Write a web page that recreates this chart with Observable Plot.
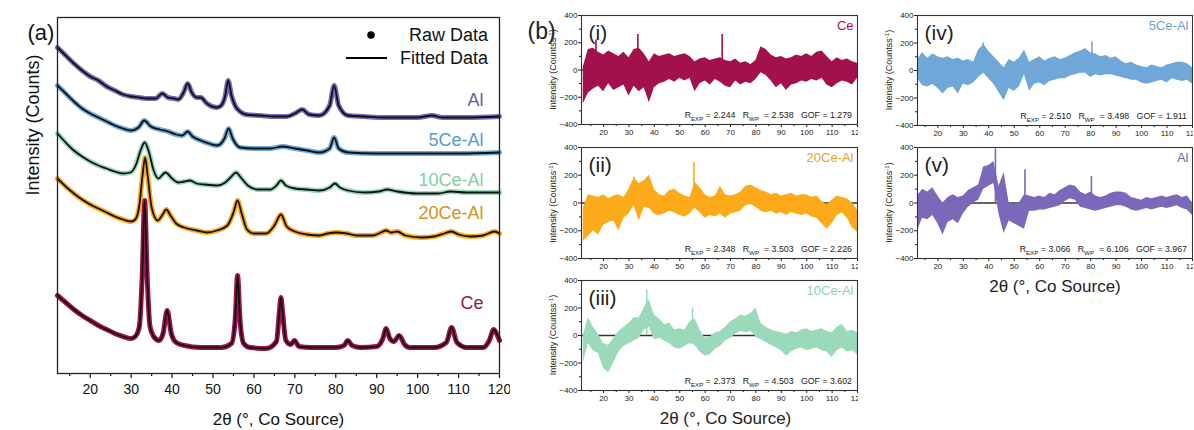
<!DOCTYPE html>
<html><head><meta charset="utf-8">
<script src="https://cdn.jsdelivr.net/npm/d3@7"></script>
<script src="https://cdn.jsdelivr.net/npm/@observablehq/plot@0.6"></script>
<style>
body{margin:0;background:#fff;font-family:"Liberation Sans",Arial,sans-serif;}
#fig{position:relative;width:1194px;height:430px;overflow:hidden;background:#fff;}
</style></head><body><div id="fig"></div>
<script>
// ---------- Panel (a): XRD patterns (2θ, intensity a.u.) ----------
const alX  = [12,14,16,18,20,22,24,26,28,30,32,34,36,37.6,39,40.5,41.5,42.8,43.8,44.8,46,47,48.5,51,52,53,53.7,54.5,55.5,56.6,58,61.5,65,68,70,71.8,73.5,76,78.5,79.6,80.7,83,87,91.5,100,103.5,106,112,120];
const alY  = [326,318,310,303,297,293,287,283,279,277,276,275,275,280,276,275,274,281,290,281,276,276,270,266,268,278,293,278,267,262,259,258,257,257,260,264,259,258,268,288,268,258,257,256,256,258,256,256,257];
const ce5X = [12,14,16,18,20,22,24,26,28,30,31.8,33.2,34.8,37,39,41,42.5,43.8,45,47,49,51,52.8,53.8,54.8,56.6,60,64,67,70,73,76,78.5,79.6,80.7,83,90,100,110,120];
const ce5Y = [288,280,272,265,260,256,252,248,245,243,246,253,247,244,242,239,238,242,237,233,230,228,235,245,235,226,225,225,227,225,223,221,225,236,225,221,220,220,220,221];
const ce10X = [12,14,16,18,20,22,24,26,28,29.8,31.2,32.3,33.3,34.3,35.5,36.6,38.4,40,41.5,43,44.4,46,48,51,53,54.5,55.6,56.8,58.5,61,64,65.5,66.6,67.8,70,73,76,78.5,79.8,81,83,87,90.5,92.5,95,100,105,108,112,117,120];
const ce10Y = [240,231,223,217,212,208,205,202,200,201,209,223,231,222,203,195,201,195,191,192,193,190,189,188,191,197,201,196,188,184,184,188,193,188,185,184,183,186,190,186,183,181,182,184,182,180,180,182,181,181,181];
const ce20X = [12,14,16,18,20,22,24,26,28,30,31,32,32.8,33.4,34,35,36.5,37.7,38.6,39.6,41,43,46,48.6,51,53.5,55,56,57,58.3,60,63,65,66.6,68,70,73,76,78,80,82.7,85,89,91,92.3,93.5,95,97,101,104,106.5,108.3,110,113,116,118.8,120];
const ce20Y = [195,187,180,174,169,165,161,157,154,152,154,168,199,216,199,166,153,159,164,158,150,146,143,141,143,148,161,173,160,144,140,140,148,159,147,142,139,138,140,141,140,138,138,141,143,141,142,138,136,137,140,142,139,137,138,142,140];
const ceX  = [12,14,16,18,20,22,24,26,28,30,31,32,32.7,33.3,33.9,34.6,35.5,36.8,37.8,38.8,39.8,41,43,47,52,54.5,55.4,56,56.6,57.5,59,63,65.5,66.2,66.6,67,67.8,69,69.9,71,74,80,82,82.9,84,86,90,91.5,92.3,93.2,94.2,95.5,96.8,98,104,107,108.3,109.6,112,116,117.5,118.6,119.5,120];
const ceY  = [78,71,64,58,53,48,44,40,37,35,37,47,98,173,98,47,37,33,40,63,40,31,28,26,26,30,53,98,53,30,26,25,32,61,76,61,33,29,33,27,26,26,28,33,28,26,27,35,45,35,32,38,29,26,26,31,46,31,26,26,33,44,38,33];
const sampleNames = ["Al","5Ce-Al","10Ce-Al","20Ce-Al","Ce"];
const xTicksA = [20,30,40,50,60,70,80,90,100,110,120];
const xMinorA = [15,25,35,45,55,65,75,85,95,105,115];

// ---------- Panel (b): residuals (obs − calc), envelope read per 2° ----------
const resX = [12,14,16,18,20,22,24,26,28,30,32,34,36,38,40,42,44,46,48,50,52,54,56,58,60,62,64,66,68,70,72,74,76,78,80,82,84,86,88,90,92,94,96,98,100,102,104,106,108,110,112,114,116,118,120];
const ceHi  = [20,150,160,130,110,140,120,100,130,90,150,160,120,60,120,100,110,120,100,110,120,100,60,80,90,70,80,90,70,60,80,50,60,40,70,170,150,110,90,100,80,90,110,100,120,100,130,140,100,60,90,70,80,60,50];
const ceLo  = [-250,-170,-140,-120,-160,-100,-150,-130,-110,-190,-120,-160,-130,-240,-130,-100,-90,-70,-90,-60,-80,-60,-160,-100,-80,-110,-70,-90,-120,-130,-80,-110,-90,-100,-70,-20,-40,-80,-130,-100,-150,-110,-100,-80,-90,-70,-80,-60,-110,-130,-100,-80,-90,-110,-60];
const ceSpikeX = [17,33.5,66.7], ceSpikeY = [220,260,260];
const c20Hi = [-40,60,50,40,60,30,50,60,40,100,180,140,160,200,100,60,50,90,100,70,50,40,150,110,60,40,50,120,60,50,60,80,120,130,110,90,80,60,70,50,60,70,50,60,60,40,50,10,-10,20,50,40,30,0,-50];
const c20Lo = [-280,-240,-200,-230,-160,-140,-130,-200,-110,-80,-20,-130,-30,-40,-80,-90,-80,-60,-70,-90,-100,-80,-40,-70,-110,-90,-100,-80,-110,-80,-70,-60,-20,-10,-30,-60,-70,-60,-80,-70,-90,-70,-80,-90,-80,-100,-110,-150,-190,-150,-90,-70,-110,-180,-210];
const c20SpikeX = [32,55.6], c20SpikeY = [185,290];
const c10Hi = [0,130,60,10,-60,-70,-20,30,60,90,130,130,200,260,150,120,80,90,40,50,40,100,120,40,-20,-10,20,30,60,100,120,150,140,160,200,90,60,40,30,20,10,30,20,40,50,30,40,50,30,20,60,80,30,40,20];
const c10Lo = [-200,-60,-110,-130,-240,-270,-200,-120,-80,-60,-40,-20,40,60,-30,-20,-40,-60,-90,-100,-80,-60,-70,-120,-150,-140,-100,-80,-40,-20,10,30,20,30,-10,-30,-50,-70,-90,-110,-150,-120,-100,-90,-110,-100,-90,-110,-120,-160,-110,-90,-120,-110,-140];
const c10SpikeX = [37,55], c10SpikeY = [330,200];
const c5Hi  = [80,130,90,120,100,90,100,80,90,70,80,60,150,190,140,100,60,20,80,60,90,150,60,80,100,70,90,100,80,90,110,130,140,160,130,120,100,110,90,100,70,50,60,40,30,20,40,30,20,40,50,60,60,50,20];
const c5Lo  = [-60,-110,-120,-100,-130,-170,-130,-120,-170,-100,-110,-90,-50,-20,-60,-100,-160,-220,-130,-150,-120,-30,-150,-100,-90,-110,-80,-70,-60,-60,-40,-30,-20,-20,-50,-30,-40,-30,-30,-40,-50,-60,-70,-70,-90,-100,-90,-80,-70,-90,-60,-70,-80,-70,-100];
const c5SpikeX = [37.8,80.5], c5SpikeY = [200,210];
const alHi  = [50,100,80,110,50,0,40,60,40,50,90,110,130,260,270,300,120,220,0,-10,0,60,50,40,50,40,70,60,90,110,130,120,80,60,80,50,40,50,70,80,80,70,40,30,20,40,30,40,50,40,50,60,40,50,0];
const alLo  = [-200,-110,-120,-90,-150,-230,-140,-120,-150,-80,-30,0,20,100,120,140,-80,-220,-130,-150,-170,-190,-60,-60,-50,-50,-40,-30,-20,10,30,20,-30,-40,-50,-60,-50,-40,-30,-20,-20,-30,-50,-60,-50,-40,-50,-40,-30,-40,-30,-20,-40,-50,-90];
const alSpikeX = [42.6,54.2,80.3], alSpikeY = [390,240,190];
const rExp = [2.244,2.348,2.373,2.510,3.066];
const rWp  = [2.538,3.503,4.503,3.498,6.106];
const gof  = [1.279,2.226,3.602,1.911,3.967];
const xTicksB = [20,30,40,50,60,70,80,90,100,110,120];
const xMinorB = [15,25,35,45,55,65,75,85,95,105,115];
const yTicksB = [-400,-200,0,200,400];
const yMinorB = [-300,-100,100,300];

// ---------- styling ----------
const FONT = '"Liberation Sans", Arial, sans-serif';
const COL = {Ce:"#a3114d", "20Ce-Al":"#fca91a", "10Ce-Al":"#9bd9bb", "5Ce-Al":"#6fa8d8", Al:"#7b68ba"};
const LABA = {Ce:"#8e1a4c", "20Ce-Al":"#d4921c", "10Ce-Al":"#80cfa6", "5Ce-Al":"#5a9ad0", Al:"#6a5aae"};
const LABB = {Ce:"#a0154f", "20Ce-Al":"#eba22a", "10Ce-Al":"#8fd4b0", "5Ce-Al":"#6aa3d4", Al:"#7563b5"};
const fig = document.getElementById("fig");
function place(el, left, top){el.style.position="absolute";el.style.left=left+"px";el.style.top=top+"px";el.style.maxWidth="none";fig.appendChild(el);}

// ---------- draw (a) ----------
(function(){
  const W=510,H=430,ml=57,mr=11,mt=17,mb=57;
  const series = {"Al":[alX,alY],"5Ce-Al":[ce5X,ce5Y],"10Ce-Al":[ce10X,ce10Y],"20Ce-Al":[ce20X,ce20Y],"Ce":[ceX,ceY]};
  const labelDy = {"Al":83,"5Ce-Al":123,"10Ce-Al":163,"20Ce-Al":196,"Ce":286};
  const marks=[];
  for (const name of ["Ce","20Ce-Al","10Ce-Al","5Ce-Al","Al"]) {
    const [xs,ys]=series[name];
    const rows=xs.map((x,i)=>({x,y:ys[i]}));
    marks.push(Plot.line(rows,{x:"x",y:"y",stroke:COL[name],strokeWidth:5,curve:"monotone-x",strokeLinecap:"round",strokeLinejoin:"round"}));
    marks.push(Plot.line(rows,{x:"x",y:"y",stroke:"#111",strokeWidth:1.8,curve:"monotone-x"}));
  }
  for (const name of sampleNames) {
    marks.push(Plot.text([name],{frameAnchor:"top-right",dx:-16,dy:labelDy[name],fill:LABA[name],fontSize:18,textAnchor:"end",lineAnchor:"middle"}));
  }
  marks.push(
    Plot.axisX({ticks:xTicksA,tickSize:5,tickPadding:6,fontSize:14,label:null,strokeWidth:1.2}),
    Plot.axisX({ticks:xMinorA,tickSize:3,text:null,label:null,strokeWidth:1.2}),
    Plot.frame({stroke:"#222",strokeWidth:1.3}),
    Plot.text(["2θ (°, Co Source)"],{frameAnchor:"bottom",dy:46,fontSize:17,lineAnchor:"middle"}),
    Plot.text(["Intensity (Counts)"],{frameAnchor:"left",dx:-24,rotate:-90,fontSize:18,lineAnchor:"middle"}),
    Plot.text(["(a)"],{frameAnchor:"top-left",dx:-30,dy:15,fontSize:22,lineAnchor:"middle"})
  );
  const svg = Plot.plot({width:W,height:H,marginLeft:ml,marginRight:mr,marginTop:mt,marginBottom:mb,
    style:{background:"transparent",fontFamily:FONT,color:"#111",overflow:"hidden"},
    x:{domain:[12,120]}, y:{domain:[0,356],axis:null}, marks});
  const g=d3.select(svg).append("g").attr("font-family",FONT).attr("font-size",18);
  g.append("circle").attr("cx",371).attr("cy",35).attr("r",3.8).attr("fill","#000");
  g.append("text").attr("x",488).attr("y",35).attr("dy","0.35em").attr("text-anchor","end").text("Raw Data");
  g.append("line").attr("x1",346).attr("x2",387).attr("y1",58).attr("y2",58).attr("stroke","#000").attr("stroke-width",2);
  g.append("text").attr("x",488).attr("y",58).attr("dy","0.35em").attr("text-anchor","end").text("Fitted Data");
  place(svg,0,0);
})();

// ---------- draw (b) ----------
function residual(o){
  const fw=o.fw, W=o.ml+fw+1, H=o.mt+o.fh+o.mb;
  const rows=resX.map((x,i)=>({x,lo:o.lo[i],hi:o.hi[i]}));
  const spikes=o.spX.map((x,i)=>({x,y:o.spY[i]}));
  const marks=[
    Plot.ruleY([0],{stroke:"#333",strokeWidth:1.3}),
    Plot.areaY(rows,{x:"x",y1:"lo",y2:"hi",fill:COL[o.name],curve:"linear"}),
    Plot.ruleX(spikes,{x:"x",y1:0,y2:"y",stroke:COL[o.name],strokeWidth:1.6}),
    Plot.axisX({ticks:xTicksB,tickSize:3,tickPadding:2,fontSize:8,label:null}),
    Plot.axisX({ticks:xMinorB,tickSize:2,text:null,label:null}),
    Plot.axisY({ticks:yTicksB,tickSize:3,tickPadding:1,fontSize:8,label:null}),
    Plot.axisY({ticks:yMinorB,tickSize:2,text:null,label:null}),
    Plot.frame({stroke:"#333",strokeWidth:1.1}),
    Plot.text([o.roman],{frameAnchor:"top-left",dx:7,dy:17.5,fontSize:21,textAnchor:"start",lineAnchor:"middle"}),
    Plot.text([o.name],{frameAnchor:"top-right",dx:-4,dy:10.5,fontSize:13,fill:LABB[o.name],textAnchor:"end",lineAnchor:"middle"})
  ];
  if (o.xlabel) marks.push(Plot.text(["2θ (°, Co Source)"],{frameAnchor:"bottom",dx:o.xlabelDx||0,dy:28.5,fontSize:17,lineAnchor:"middle"}));
  if (o.letter) marks.push(Plot.text([o.letter],{frameAnchor:"top-left",dx:-(o.ml-22),dy:16.5,fontSize:23,lineAnchor:"middle"}));
  const svg=Plot.plot({width:W,height:H,marginLeft:o.ml,marginRight:1,marginTop:o.mt,marginBottom:o.mb,
    style:{background:"transparent",fontFamily:FONT,color:"#222",overflow:"hidden"},
    x:{domain:o.xd}, y:{domain:[-400,400]}, marks});
  const s=d3.select(svg);
  const yl=s.append("text").attr("font-family",FONT).attr("font-size",9).attr("text-anchor","middle")
    .attr("transform",`translate(${o.ml-28},${o.mt+o.fh/2}) rotate(-90)`).attr("dy","0.35em");
  yl.append("tspan").text("Intensity (Countss");
  yl.append("tspan").attr("font-size",6).attr("dy",-3.5).text("-1");
  yl.append("tspan").attr("dy",3.5).text(")");
  const k=o.k;
  const t=s.append("text").attr("font-family",FONT).attr("font-size",8.8).attr("text-anchor","end")
    .attr("x",o.ml+fw-5).attr("y",o.mt+o.fh-9).attr("dy","0.35em").style("white-space","pre");
  t.append("tspan").text("R");
  t.append("tspan").attr("font-size",6.2).attr("dy",2.5).text("EXP");
  t.append("tspan").attr("dy",-2.5).text(` = ${rExp[k].toFixed(3)}   R`);
  t.append("tspan").attr("font-size",6.2).attr("dy",2.5).text("WP");
  t.append("tspan").attr("dy",-2.5).text(`  = ${rWp[k].toFixed(3)}   GOF = ${gof[k].toFixed(3)}`);
  place(svg,o.left,o.top);
}
residual({k:0,name:"Ce",roman:"(i)",hi:ceHi,lo:ceLo,spX:ceSpikeX,spY:ceSpikeY,left:505,top:0,ml:76,fw:276,mt:15,fh:109,mb:16,xd:[11.3,120],letter:"(b)"});
residual({k:1,name:"20Ce-Al",roman:"(ii)",hi:c20Hi,lo:c20Lo,spX:c20SpikeX,spY:c20SpikeY,left:505,top:140,ml:76,fw:276,mt:7,fh:111,mb:16,xd:[11.3,120]});
residual({k:2,name:"10Ce-Al",roman:"(iii)",hi:c10Hi,lo:c10Lo,spX:c10SpikeX,spY:c10SpikeY,left:505,top:273,ml:76,fw:276,mt:7,fh:110,mb:40,xd:[11.3,120],xlabel:true,xlabelDx:6});
residual({k:3,name:"5Ce-Al",roman:"(iv)",hi:c5Hi,lo:c5Lo,spX:c5SpikeX,spY:c5SpikeY,left:875,top:0,ml:42,fw:275,mt:15,fh:110,mb:16,xd:[12,120]});
residual({k:4,name:"Al",roman:"(v)",hi:alHi,lo:alLo,spX:alSpikeX,spY:alSpikeY,left:875,top:140,ml:42,fw:275,mt:7,fh:111,mb:40,xd:[12,120],xlabel:true});
</script></body></html>
